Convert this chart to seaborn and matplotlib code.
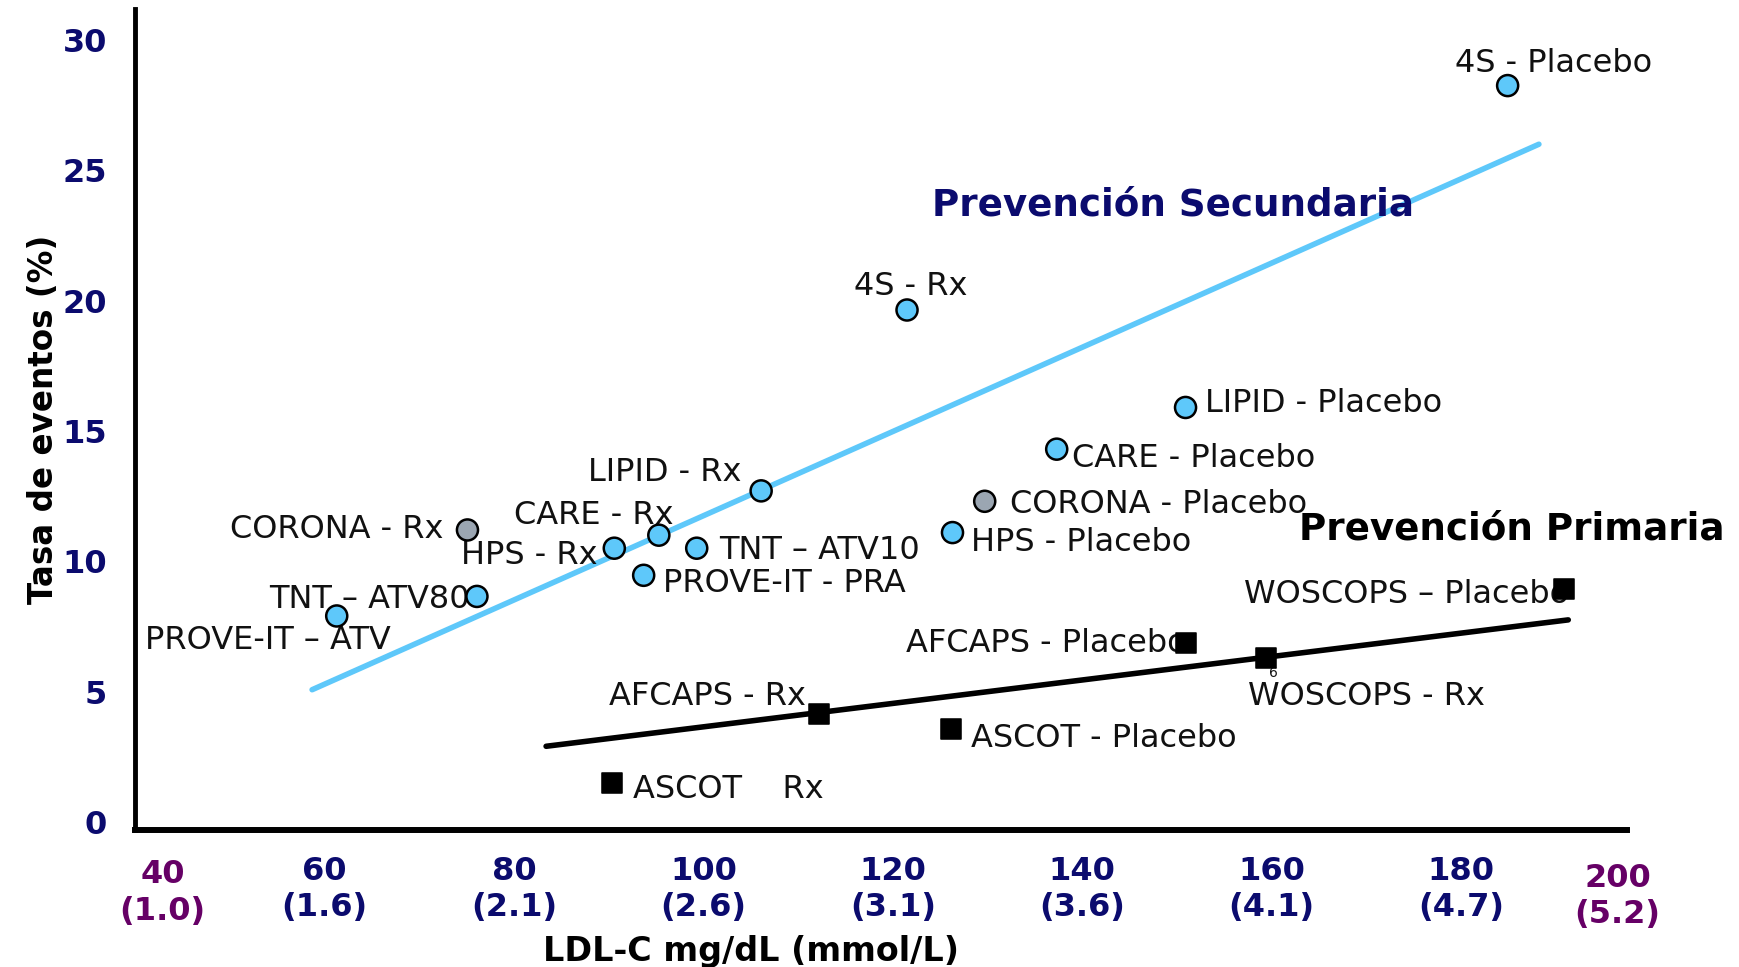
import numpy as np
import pandas as pd
import seaborn as sns
import matplotlib.pyplot as plt

# secondary prevention trials (circles)
sec_labels = ['4S - Placebo', '4S - Rx', 'LIPID - Placebo', 'CARE - Placebo',
              'CORONA - Placebo', 'HPS - Placebo', 'LIPID - Rx', 'CARE - Rx',
              'HPS - Rx', 'TNT – ATV10', 'PROVE-IT - PRA', 'CORONA - Rx',
              'TNT – ATV80', 'PROVE-IT – ATV']
sec_ldl = [184.9, 121.5, 150.9, 137.3, 129.7, 126.3, 106.1, 95.3, 90.6, 99.3, 93.7, 75.1, 76.1, 61.3]
sec_rate = [28.25, 19.64, 15.9, 14.3, 12.3, 11.1, 12.7, 11.0, 10.5, 10.5, 9.46, 11.2, 8.65, 7.9]
sec_group = ['stat', 'stat', 'stat', 'stat', 'corona', 'stat', 'stat', 'stat',
             'stat', 'stat', 'stat', 'corona', 'stat', 'stat']

# primary prevention trials (squares)
pri_labels = ['WOSCOPS – Placebo', 'AFCAPS - Placebo', 'WOSCOPS - Rx',
              'AFCAPS - Rx', 'ASCOT - Placebo', 'ASCOT    Rx']
pri_ldl = [190.9, 150.9, 159.4, 112.2, 126.1, 90.4]
pri_rate = [8.95, 6.86, 6.3, 4.13, 3.58, 1.49]

# trend lines
sec_fit_x = [58.7, 188.2]
sec_fit_y = [5.07, 26.0]
pri_fit_x = [83.4, 191.3]
pri_fit_y = [2.9, 7.75]

x_ticks = [60, 80, 100, 120, 140, 160, 180]
x_ticklabels = ['60\n(1.6)', '80\n(2.1)', '100\n(2.6)', '120\n(3.1)', '140\n(3.6)', '160\n(4.1)', '180\n(4.7)']
y_ticks = [0, 5, 10, 15, 20, 25, 30]

# label offsets in points (dx, dy, ha)
sec_offsets = [(-38, 16, 'left'), (-38, 17, 'left'), (14, 3, 'left'), (11, -7, 'left'),
               (18, -2, 'left'), (13, -7, 'left'), (-14, 13, 'right'), (11, 14, 'right'),
               (-12, -5, 'right'), (16, -2, 'left'), (14, -6, 'left'), (-17, 0, 'right'),
               (-5, -2, 'right'), (-138, -18, 'left')]
pri_offsets = [(3, -4, 'right'), (1, 0, 'right'), (-13, -28, 'left'),
               (-9, 13, 'right'), (15, -7, 'left'), (15, -5, 'left')]

navy = '#0b0b6e'
purple = '#660066'
sky = '#5ec8fa'
lab_size = 23

sns.set_style('white')
plt.rcParams['font.family'] = ['DejaVu Sans']

sec = pd.DataFrame({'label': sec_labels, 'ldl': sec_ldl, 'rate': sec_rate, 'group': sec_group})
pri = pd.DataFrame({'label': pri_labels, 'ldl': pri_ldl, 'rate': pri_rate})

fig = plt.figure(figsize=(17.39, 9.67), dpi=100)
ax = fig.add_axes([0.0776, 0.142, 0.858, 0.849])

sns.lineplot(x=sec_fit_x, y=sec_fit_y, color=sky, lw=4, ax=ax, zorder=2)
sns.lineplot(x=pri_fit_x, y=pri_fit_y, color='black', lw=4, ax=ax, zorder=2)

sns.scatterplot(data=sec, x='ldl', y='rate', hue='group',
                palette={'stat': sky, 'corona': '#9ba6b2'},
                s=230, edgecolor='black', linewidth=1.8, legend=False, ax=ax, zorder=5)
sns.scatterplot(data=pri, x='ldl', y='rate', marker='s', color='black',
                s=200, edgecolor='black', legend=False, ax=ax, zorder=5)

for (lab, xv, yv), (dx, dy, ha) in zip(zip(sec_labels, sec_ldl, sec_rate), sec_offsets):
    ax.annotate(lab, (xv, yv), xytext=(dx, dy), textcoords='offset points',
                ha=ha, va='center', fontsize=lab_size, color='#111111', zorder=3)
for (lab, xv, yv), (dx, dy, ha) in zip(zip(pri_labels, pri_ldl, pri_rate), pri_offsets):
    ax.annotate(lab, (xv, yv), xytext=(dx, dy), textcoords='offset points',
                ha=ha, va='center', fontsize=lab_size, color='#111111', zorder=3)

# stray mark near WOSCOPS - Rx
ax.annotate('6', (pri_ldl[2], pri_rate[2]), xytext=(5, -11), textcoords='offset points',
            ha='center', va='center', fontsize=10, color='#111111')

ax.text(0.696, 0.761, 'Prevención Secundaria', transform=ax.transAxes,
        fontsize=26.8, fontweight='bold', color=navy, ha='center', va='center')
ax.text(0.923, 0.366, 'Prevención Primaria', transform=ax.transAxes,
        fontsize=26.8, fontweight='bold', color='black', ha='center', va='center')

ax.set_xlim(40, 197.5)
ax.set_ylim(-0.3, 31.2)
ax.set_xticks(x_ticks)
ax.set_xticklabels(x_ticklabels, fontsize=23, fontweight='bold', color=navy, linespacing=1.22)
ax.set_yticks(y_ticks)
ax.set_yticklabels([str(v) for v in y_ticks], fontsize=23, fontweight='bold', color=navy)
ax.tick_params(axis='x', direction='inout', length=10, width=3, color='white', pad=14)
ax.tick_params(axis='y', length=0, pad=20)

ax.text(42.9, -0.077, '40\n(1.0)', transform=ax.get_xaxis_transform(), ha='center', va='center',
        fontsize=23, fontweight='bold', color=purple, linespacing=1.22)
ax.text(196.5, -0.081, '200\n(5.2)', transform=ax.get_xaxis_transform(), ha='center', va='center',
        fontsize=23, fontweight='bold', color=purple, linespacing=1.22)

ax.set_xlabel('LDL-C mg/dL (mmol/L)', fontsize=24, fontweight='bold', color='black')
ax.xaxis.set_label_coords(0.413, -0.128)
ax.set_ylabel('Tasa de eventos (%)', fontsize=23.5, fontweight='bold', color='black', labelpad=2)

for side in ['top', 'right']:
    ax.spines[side].set_visible(False)
ax.spines['left'].set_linewidth(3.5)
ax.spines['bottom'].set_linewidth(4.3)
ax.spines['left'].set_color('black')
ax.spines['bottom'].set_color('black')

fig.savefig('out.png', dpi=100, facecolor='white')
